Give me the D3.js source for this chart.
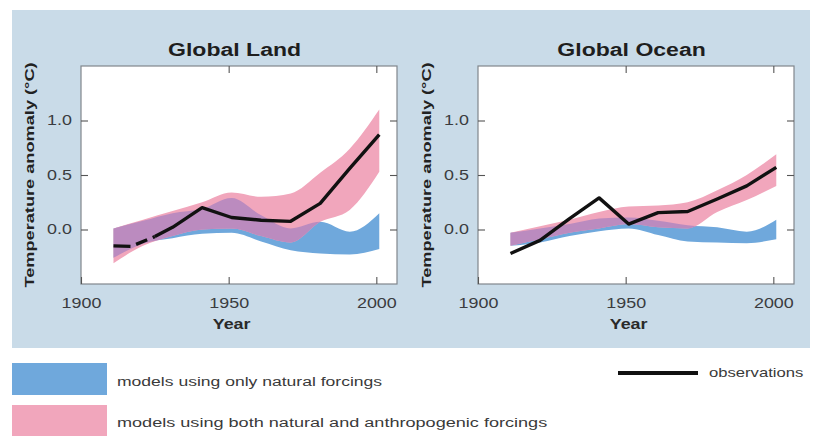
<!DOCTYPE html>
<html>
<head>
<meta charset="utf-8">
<script src="https://cdn.jsdelivr.net/npm/d3@7"></script>
<style>
  html, body { margin: 0; padding: 0; background: #ffffff; }
  svg { display: block; font-family: "Liberation Sans", Arial, Helvetica, sans-serif; }
</style>
</head>
<body>
<svg id="chart" width="819" height="436"></svg>
<script>
// Decadal model ranges and observations, temperature anomaly in °C
const years = [1911, 1921, 1931, 1941, 1951, 1961, 1971, 1981, 1991, 2001];

const landNaturalLow  = [-0.26, -0.13, -0.08, -0.04, -0.03, -0.11, -0.19, -0.22, -0.23, -0.18];
const landNaturalHigh = [ 0.01,  0.08,  0.15,  0.19,  0.29,  0.13,  0.01,  0.07, -0.02,  0.15];
const landBothLow     = [-0.31, -0.15, -0.06,  0.00,  0.01, -0.06, -0.12,  0.07,  0.18,  0.53];
const landBothHigh    = [ 0.01,  0.09,  0.17,  0.25,  0.34,  0.30,  0.33,  0.52,  0.74,  1.10];
const landObsYears    = [1911, 1917, 1925, 1931, 1941, 1951, 1961, 1971, 1981, 1991, 2001];
const landObs         = [-0.15, -0.155, -0.065, 0.02, 0.20, 0.11, 0.085, 0.075, 0.24, 0.56, 0.87];
const landSparseUntil = 1925;   // early decades with poor coverage are dashed

const oceanNaturalLow  = [-0.15, -0.12, -0.06, -0.015, 0.01, -0.05, -0.11, -0.12, -0.125, -0.09];
const oceanNaturalHigh = [-0.03,  0.01,  0.05,  0.10,  0.11,  0.08,  0.04,  0.02, -0.02,  0.09];
const oceanBothLow     = [-0.15, -0.09, -0.03,  0.01,  0.05,  0.02,  0.01,  0.16,  0.27,  0.40];
const oceanBothHigh    = [-0.03,  0.03,  0.09,  0.16,  0.21,  0.22,  0.25,  0.36,  0.50,  0.69];
const oceanObsYears    = [1911, 1921, 1931, 1941, 1951, 1961, 1971, 1981, 1991, 2001];
const oceanObs         = [-0.22, -0.10, 0.10, 0.29, 0.05, 0.155, 0.165, 0.28, 0.40, 0.57];
const oceanSparseUntil = 1911;

const panelTitles = ["Global Land", "Global Ocean"];
const xTicks = [1900, 1950, 2000];
const yTicks = [0.0, 0.5, 1.0];
const xAxisTitle = "Year";
const yAxisTitle = "Temperature anomaly (°C)";
const legendNatural = "models using only natural forcings";
const legendBoth = "models using both natural and anthropogenic forcings";
const legendObs = "observations";

// Styling
const COL_BG = "#c9dbe8";
const COL_NAT = "#6fa8dc";
const COL_BOTH = "#f1a6bc";
const COL_OVER = "#bb8bbf";
const COL_FRAME = "#80868c";
const SX = 1.28;   // wide lettering

const svg = d3.select("#chart");

// Light blue backdrop behind both panels
svg.append("rect").attr("x", 12).attr("y", 10).attr("width", 798).attr("height", 338).attr("fill", COL_BG);

function wideText(g, x, y, str, opts) {
  return g.append("text")
    .attr("transform", `translate(${x},${y}) scale(${opts.sx || SX},1)`)
    .attr("text-anchor", opts.anchor || "start")
    .attr("font-size", opts.size)
    .attr("font-weight", opts.weight || "normal")
    .attr("fill", opts.fill || "#333")
    .text(str);
}

function zipBand(low, high) {
  return years.map((yr, i) => ({ year: yr, low: low[i], high: high[i] }));
}

const panels = [
  { id: "land", title: panelTitles[0], left: 81,
    natural: zipBand(landNaturalLow, landNaturalHigh),
    both: zipBand(landBothLow, landBothHigh),
    obs: landObsYears.map((yr, i) => ({ year: yr, v: landObs[i] })),
    sparseUntil: landSparseUntil },
  { id: "ocean", title: panelTitles[1], left: 478,
    natural: zipBand(oceanNaturalLow, oceanNaturalHigh),
    both: zipBand(oceanBothLow, oceanBothHigh),
    obs: oceanObsYears.map((yr, i) => ({ year: yr, v: oceanObs[i] })),
    sparseUntil: oceanSparseUntil }
];

const plotTop = 66, plotBottom = 284, plotW = 316;
const defs = svg.append("defs");

panels.forEach(p => {
  const x = d3.scaleLinear().domain([1900, 2007]).range([p.left, p.left + plotW]);
  const y = d3.scaleLinear().domain([-0.5, 1.5]).range([plotBottom, plotTop]);
  const g = svg.append("g");

  g.append("rect")
    .attr("x", p.left).attr("y", plotTop)
    .attr("width", plotW).attr("height", plotBottom - plotTop)
    .attr("fill", "#ffffff");

  const band = d3.area()
    .x(d => x(d.year))
    .y0(d => y(d.low))
    .y1(d => y(d.high))
    .curve(d3.curveMonotoneX);

  // natural-only range, combined-forcing range, and their overlap
  defs.append("clipPath").attr("id", "clip-nat-" + p.id)
    .append("path").attr("d", band(p.natural));

  g.append("path").attr("d", band(p.natural)).attr("fill", COL_NAT);
  g.append("path").attr("d", band(p.both)).attr("fill", COL_BOTH);
  g.append("path").attr("d", band(p.both)).attr("fill", COL_OVER)
    .attr("clip-path", `url(#clip-nat-${p.id})`);

  // observations: dashed where coverage is sparse, solid afterwards
  const line = d3.line().x(d => x(d.year)).y(d => y(d.v));
  const sparse = p.obs.filter(d => d.year <= p.sparseUntil);
  const solid = p.obs.filter(d => d.year >= p.sparseUntil);
  if (sparse.length > 1) {
    g.append("path").attr("d", line(sparse))
      .attr("fill", "none").attr("stroke", "#111").attr("stroke-width", 3.4)
      .attr("stroke-dasharray", "17,6,12,6");
  }
  g.append("path").attr("d", line(solid))
    .attr("fill", "none").attr("stroke", "#111").attr("stroke-width", 3.4)
    .attr("stroke-linejoin", "round").attr("stroke-linecap", "butt");

  // frame
  g.append("rect")
    .attr("x", p.left).attr("y", plotTop)
    .attr("width", plotW).attr("height", plotBottom - plotTop)
    .attr("fill", "none").attr("stroke", COL_FRAME).attr("stroke-width", 1.2);

  // inward ticks on all four sides
  const styleAxis = sel => {
    sel.select(".domain").remove();
    sel.selectAll(".tick line").attr("stroke", "#555").attr("stroke-width", 1.1);
  };
  const yl = g.append("g").attr("transform", `translate(${p.left},0)`)
    .call(d3.axisLeft(y).tickValues(yTicks).tickSize(-7).tickPadding(9).tickFormat(d3.format(".1f")))
    .call(styleAxis);
  yl.selectAll(".tick text").each(function () {
    d3.select(this).attr("x", -9 / SX).attr("transform", `scale(${SX},1)`)
      .attr("font-size", 14).attr("fill", "#3a3c40").attr("font-family", null);
  });
  g.append("g").attr("transform", `translate(${p.left + plotW},0)`)
    .call(d3.axisRight(y).tickValues(yTicks).tickSize(-7).tickFormat(""))
    .call(styleAxis);
  g.append("g").attr("transform", `translate(0,${plotTop})`)
    .call(d3.axisTop(x).tickValues(xTicks.slice(1)).tickSize(-7).tickFormat(""))
    .call(styleAxis);
  const xb = g.append("g").attr("transform", `translate(0,${plotBottom})`)
    .call(d3.axisBottom(x).tickValues(xTicks).tickSize(-7).tickPadding(14).tickFormat(d3.format("d")))
    .call(styleAxis);
  xb.selectAll(".tick text").each(function () {
    d3.select(this).attr("transform", `scale(${SX},1)`)
      .attr("font-size", 14).attr("fill", "#3a3c40").attr("font-family", null);
  });

  // titles
  wideText(g, x(1952), 56, p.title, { anchor: "middle", size: 18, weight: "bold", fill: "#1e1e1e" });
  wideText(g, x(1951), 329, xAxisTitle, { anchor: "middle", size: 14, weight: "bold", fill: "#2a2a2a" });
  g.append("text")
    .attr("transform", `translate(${p.left - 47},${(plotTop + plotBottom) / 2}) rotate(-90) scale(1.4,1)`)
    .attr("text-anchor", "middle")
    .attr("font-size", 13).attr("font-weight", "bold").attr("fill", "#222")
    .text(yAxisTitle);
});

// Legend
const lg = svg.append("g");
lg.append("rect").attr("x", 12).attr("y", 363).attr("width", 95).attr("height", 32).attr("fill", COL_NAT);
lg.append("rect").attr("x", 12).attr("y", 405).attr("width", 95).attr("height", 32).attr("fill", COL_BOTH);
wideText(lg, 117, 386, legendNatural, { size: 13.5, sx: 1.3, fill: "#3a3a3a" });
wideText(lg, 117, 427, legendBoth, { size: 13.5, sx: 1.34, fill: "#3a3a3a" });
lg.append("line").attr("x1", 618).attr("x2", 698).attr("y1", 373).attr("y2", 373)
  .attr("stroke", "#111").attr("stroke-width", 4);
wideText(lg, 709, 377, legendObs, { size: 13, fill: "#3a3a3a" });
</script>
</body>
</html>
